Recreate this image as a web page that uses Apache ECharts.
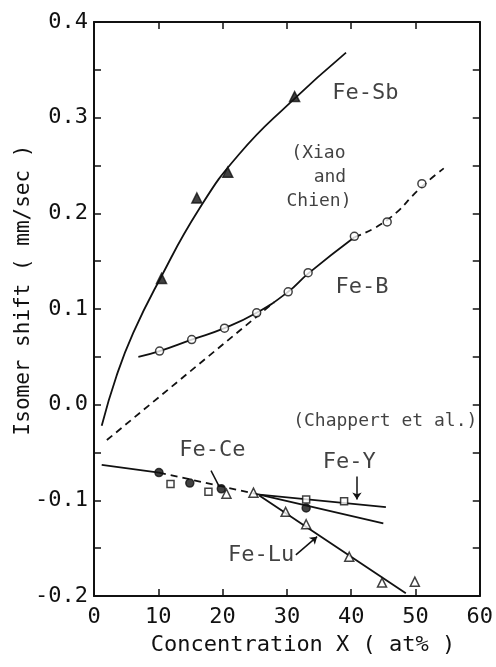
<!DOCTYPE html>
<html>
<head>
<meta charset="utf-8">
<script src="https://cdn.jsdelivr.net/npm/echarts@6/dist/echarts.min.js"></script>
<style>
  html, body { margin: 0; padding: 0; background: #fff; }
  #chart { width: 496px; height: 667px; }
</style>
</head>
<body>
<div id="chart"></div>
<script>
// values, [concentration at%, isomer shift mm/sec]
const sbPoints = [[10.5, 0.132], [16.0, 0.216], [20.8, 0.243], [31.2, 0.322]];
const sbCurve = [[1.2, -0.022], [3.5, 0.030], [6.1, 0.075], [10.0, 0.128], [16.4, 0.205], [22.6, 0.262], [30.4, 0.315], [39.2, 0.368]];

const bPoints = [[10.2, 0.056], [15.2, 0.068], [20.3, 0.080], [25.3, 0.096], [30.2, 0.118], [33.3, 0.138], [40.5, 0.176], [45.6, 0.191], [51.0, 0.231]];
const bCurve = [[6.9, 0.050], [10.2, 0.056], [15.2, 0.068], [20.3, 0.080], [25.3, 0.096], [30.2, 0.118], [33.3, 0.137], [40.5, 0.175]];
const bCurveDashed = [[40.5, 0.175], [45.6, 0.193], [51.0, 0.228], [54.4, 0.247]];
const bTangent = [[2.0, -0.037], [28.0, 0.107]];

const cePoints = [[10.1, -0.071], [14.9, -0.082], [19.8, -0.088], [33.0, -0.108]];
const yPoints = [[11.9, -0.083], [17.8, -0.091], [33.0, -0.099], [38.9, -0.101]];
const luPoints = [[20.6, -0.093], [24.8, -0.092], [29.8, -0.112], [33.0, -0.125], [39.7, -0.159], [44.8, -0.186], [49.9, -0.185]];

const lowCommon = [[1.2, -0.063], [10.1, -0.071]];
const lowCommonDashed = [[10.1, -0.071], [25.7, -0.094]];
const yLine = [[25.7, -0.094], [45.4, -0.107]];
const ceLine = [[25.7, -0.094], [45.0, -0.124]];
const luLine = [[25.7, -0.095], [48.5, -0.197]];

const cePointer = [[18.2, -0.069], [19.5, -0.086]];
const yPointer = [[40.9, -0.075], [40.9, -0.099]];
const luPointer = [[31.4, -0.157], [34.7, -0.138]];

const bigLabels = [[42.2, 0.326, 'Fe-Sb'], [41.7, 0.123, 'Fe-B'], [39.7, -0.060, 'Fe-Y'], [26.0, -0.157, 'Fe-Lu'], [18.4, -0.048, 'Fe-Ce']];
const smallLabels = [[34.9, 0.263, '(Xiao'], [36.7, 0.238, 'and'], [35.0, 0.213, 'Chien)'], [45.3, -0.017, '(Chappert et al.)']];

const xTitle = 'Concentration X ( at% )';
const yTitle = 'Isomer shift ( mm/sec )';

const FONT = 'DejaVu Sans Mono';
const INK = '#111';

function lineSeries(data, dashed, smooth) {
  return {
    type: 'line', data: data, smooth: smooth ? 0.5 : false,
    symbol: 'none', z: 2, silent: true,
    lineStyle: { color: INK, width: 1.8, type: dashed ? [7, 5] : 'solid' }
  };
}
function pointSeries(data, symbol, size, filled) {
  return {
    type: 'scatter', data: data, symbol: symbol, symbolSize: size, z: 4, silent: true,
    itemStyle: { color: filled ? INK : '#fff', borderColor: INK, borderWidth: 1.5 }
  };
}
function pointer(data, arrow, curve) {
  return {
    type: 'line', data: [], silent: true,
    markLine: {
      silent: true, symbol: ['none', arrow ? 'arrow' : 'none'], symbolSize: 7,
      label: { show: false }, animation: false,
      lineStyle: { color: INK, width: 1.5, type: 'solid', curveness: curve || 0 },
      data: [[{ coord: data[0] }, { coord: data[1] }]]
    }
  };
}
function labelSeries(data, size) {
  return {
    type: 'scatter', data: data, symbolSize: 1, z: 5, silent: true,
    itemStyle: { color: 'rgba(0,0,0,0)' },
    label: {
      show: true, position: 'inside', formatter: p => p.value[2],
      fontFamily: FONT, fontSize: size, color: INK
    }
  };
}

const axisLine = { show: true, onZero: false, lineStyle: { color: INK, width: 2 } };
const tickStyle = { show: true, inside: true, length: 7, lineStyle: { color: INK, width: 1.5 } };
const minorStyle = { show: true, splitNumber: 2, length: 7, lineStyle: { color: INK, width: 1.5 } };

const option = {
  animation: false,
  grid: { left: 94, right: 15, top: 22, bottom: 71, containLabel: false },
  xAxis: [
    {
      type: 'value', min: 0, max: 60, interval: 10, position: 'bottom',
      axisLine: axisLine, axisTick: tickStyle, splitLine: { show: false },
      axisLabel: { fontFamily: FONT, fontSize: 22, color: INK, margin: 10 }
    },
    {
      type: 'value', min: 0, max: 60, interval: 10, position: 'top',
      axisLine: axisLine, axisTick: tickStyle, splitLine: { show: false },
      axisLabel: { show: false }
    }
  ],
  yAxis: [
    {
      type: 'value', min: -0.2, max: 0.4, interval: 0.1, position: 'left',
      axisLine: axisLine, axisTick: tickStyle, minorTick: minorStyle,
      splitLine: { show: false }, minorSplitLine: { show: false },
      axisLabel: {
        fontFamily: FONT, fontSize: 22, color: INK, margin: 6,
        formatter: v => (Math.abs(v) < 1e-9 ? '0.0' : v.toFixed(1))
      }
    },
    {
      type: 'value', min: -0.2, max: 0.4, interval: 0.1, position: 'right',
      axisLine: axisLine, axisTick: tickStyle, minorTick: minorStyle,
      splitLine: { show: false }, minorSplitLine: { show: false },
      axisLabel: { show: false }
    }
  ],
  graphic: [
    {
      type: 'text', x: 303, y: 634,
      style: { text: xTitle, font: '22px ' + FONT, fill: INK, align: 'center', verticalAlign: 'top' }
    },
    {
      type: 'text', x: 13, y: 290, rotation: Math.PI / 2,
      style: { text: yTitle, font: '21px ' + FONT, fill: INK, align: 'center', verticalAlign: 'top' }
    }
  ],
  series: [
    lineSeries(sbCurve, false, true),
    pointSeries(sbPoints, 'triangle', 10, true),
    lineSeries(bCurve, false, true),
    lineSeries(bCurveDashed, true, true),
    lineSeries(bTangent, true, false),
    pointSeries(bPoints, 'circle', 8, false),
    lineSeries(lowCommon, false, false),
    lineSeries(lowCommonDashed, true, false),
    lineSeries(yLine, false, false),
    lineSeries(ceLine, false, false),
    lineSeries(luLine, false, false),
    pointSeries(yPoints, 'rect', 7, false),
    pointSeries(luPoints, 'triangle', 9, false),
    pointSeries(cePoints, 'circle', 8, true),
    pointer(cePointer, false),
    pointer(yPointer, true),
    pointer(luPointer, true, -0.2),
    labelSeries(bigLabels, 22),
    labelSeries(smallLabels, 18)
  ]
};

const chart = echarts.init(document.getElementById('chart'));
chart.setOption(option);
</script>
</body>
</html>
